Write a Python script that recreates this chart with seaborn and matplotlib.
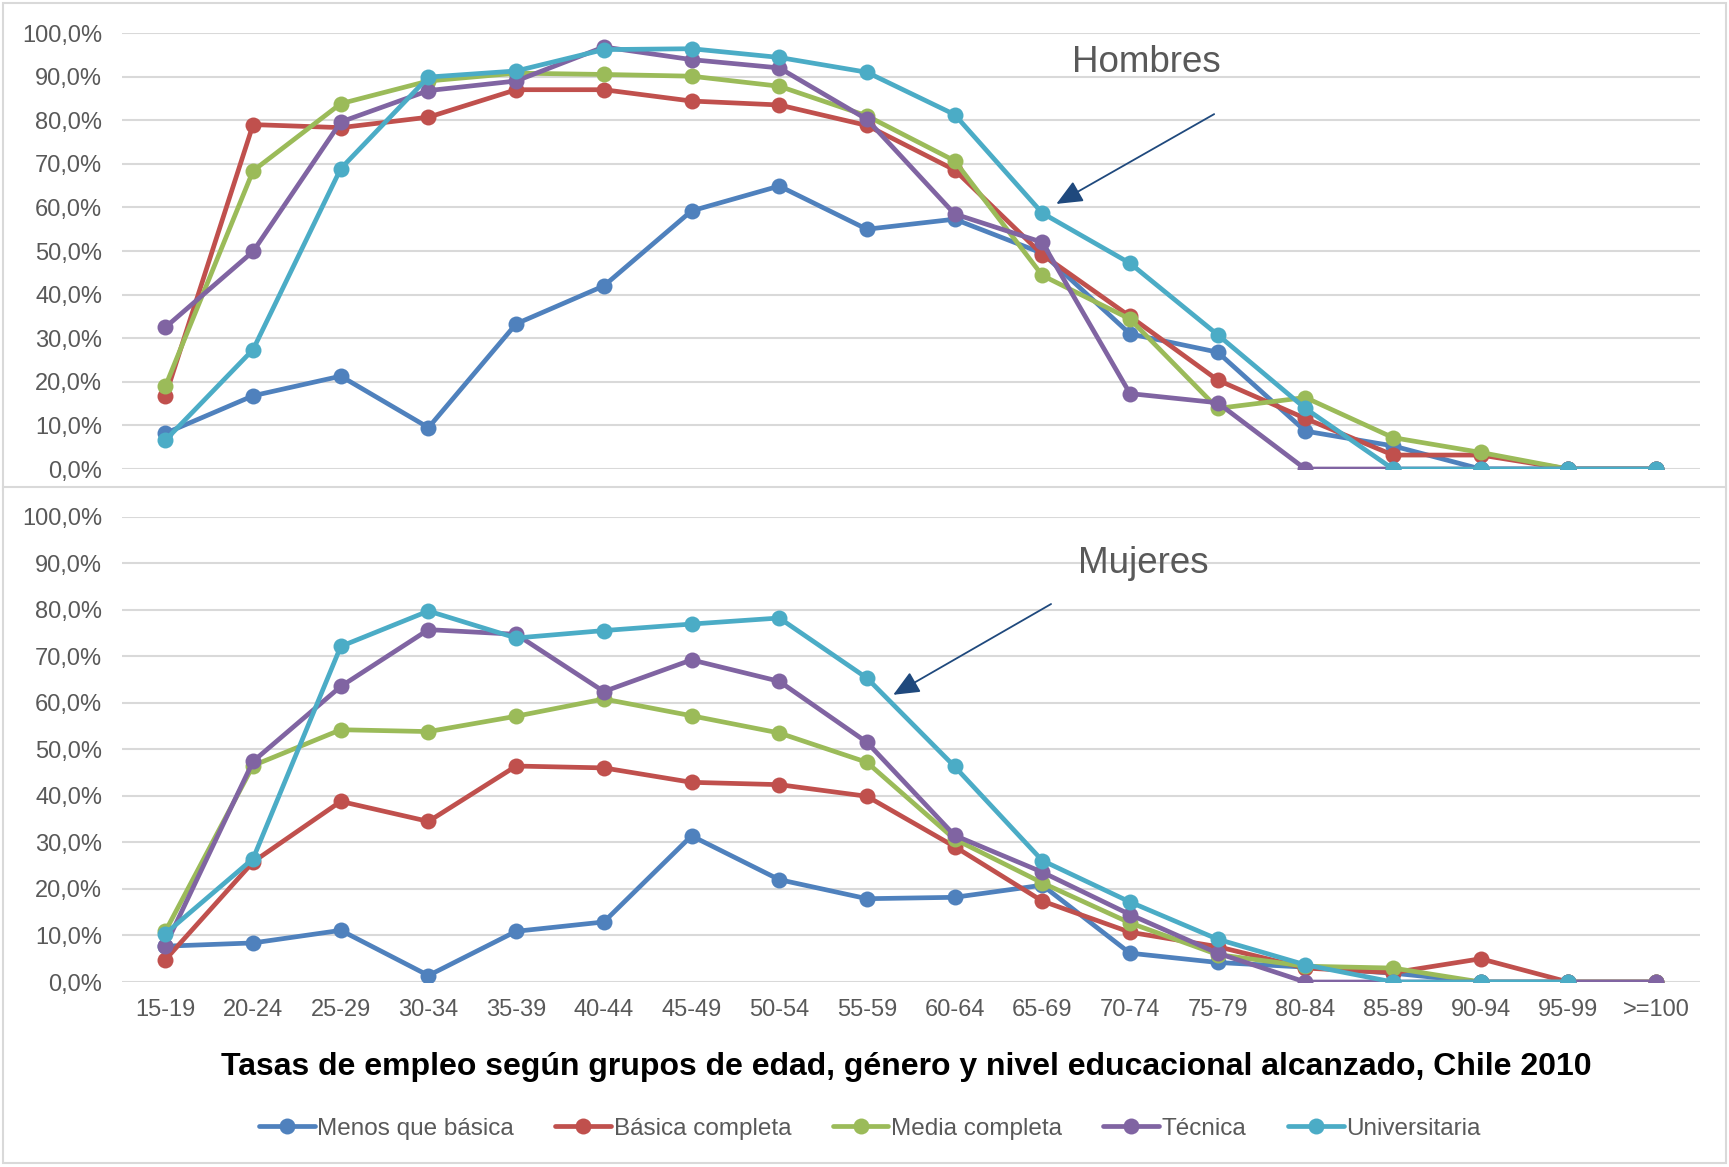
import numpy as np
import pandas as pd
import matplotlib
matplotlib.use("Agg")
import matplotlib.pyplot as plt
import seaborn as sns
from matplotlib.lines import Line2D
from matplotlib.patches import Rectangle
from matplotlib.ticker import FuncFormatter, MultipleLocator

# data (percent)
edades = ['15-19', '20-24', '25-29', '30-34', '35-39', '40-44', '45-49', '50-54', '55-59',
          '60-64', '65-69', '70-74', '75-79', '80-84', '85-89', '90-94', '95-99', '>=100']
niveles = ['Menos que básica', 'Básica completa', 'Media completa', 'Técnica', 'Universitaria']

menos_h = [8.2, 16.8, 21.3, 9.5, 33.3, 42.0, 59.2, 64.9, 55.0, 57.3, 49.5, 31.0, 26.8, 8.7, 5.3, 0, 0, 0]
basica_h = [16.7, 79.0, 78.3, 80.7, 87.0, 87.0, 84.4, 83.5, 78.8, 68.6, 49.2, 35.0, 20.4, 11.6, 3.2, 3.2, 0, 0]
media_h = [19.0, 68.4, 83.8, 89.0, 90.8, 90.5, 90.1, 87.8, 81.0, 70.7, 44.4, 34.4, 13.9, 16.4, 7.2, 3.8, 0, 0]
tecnica_h = [32.5, 49.9, 79.6, 86.8, 89.0, 96.8, 93.9, 92.0, 80.2, 58.5, 52.0, 17.3, 15.2, 0, 0, 0, 0, 0]
univ_h = [6.6, 27.4, 68.9, 89.9, 91.3, 96.2, 96.4, 94.4, 91.0, 81.3, 58.7, 47.2, 30.8, 13.9, 0, 0, 0, 0]

menos_m = [7.7, 8.4, 11.1, 1.4, 10.9, 12.9, 31.4, 22.0, 17.9, 18.2, 20.8, 6.2, 4.2, 3.2, 1.9, 0, 0, 0]
basica_m = [4.8, 25.8, 38.8, 34.5, 46.4, 46.0, 42.9, 42.4, 39.9, 29.1, 17.4, 10.7, 7.6, 3.0, 2.0, 5.0, 0, 0]
media_m = [10.9, 46.5, 54.2, 53.8, 57.1, 60.8, 57.2, 53.5, 47.2, 30.7, 21.3, 12.7, 5.9, 3.4, 3.0, 0, 0, 0]
tecnica_m = [7.8, 47.4, 63.5, 75.7, 74.7, 62.4, 69.2, 64.6, 51.5, 31.5, 23.6, 14.5, 6.2, 0, 0, 0, 0, 0]
univ_m = [10.4, 26.5, 72.1, 79.7, 73.9, 75.5, 76.9, 78.2, 65.3, 46.3, 26.1, 17.2, 9.2, 3.7, 0, 0, 0, np.nan]

colores = ['#4F81BD', '#C0504D', '#9BBB59', '#8064A2', '#4BACC6']
titulo = 'Tasas de empleo según grupos de edad, género y nivel educacional alcanzado, Chile 2010'


def to_long(series):
    rows = []
    for nivel, vals in zip(niveles, series):
        for i, v in enumerate(vals):
            rows.append({'x': i, 'edad': edades[i], 'nivel': nivel, 'tasa': v})
    return pd.DataFrame(rows)


df_h = to_long([menos_h, basica_h, media_h, tecnica_h, univ_h])
df_m = to_long([menos_m, basica_m, media_m, tecnica_m, univ_m])

sns.set_style("white")
plt.rcParams['font.family'] = ['Liberation Sans', 'DejaVu Sans']

fig = plt.figure(figsize=(17.29, 11.67), dpi=100)
gris = '#595959'
grid_c = '#D9D9D9'

ax_h = fig.add_axes([0.0703, 0.5981, 0.9129, 0.3736], zorder=0)
ax_m = fig.add_axes([0.0703, 0.1585, 0.9129, 0.3989], zorder=2)

# panel borders (the lower chart sits on top of the upper chart's tick labels)
fig.patches.append(Rectangle((3 / 1729, 1 - 490 / 1167), 1723 / 1729, 487 / 1167,
                             transform=fig.transFigure, facecolor='white',
                             edgecolor=grid_c, lw=1.5, zorder=-1))
fig.patches.append(Rectangle((3 / 1729, 4 / 1167), 1723 / 1729, 676 / 1167,
                             transform=fig.transFigure, facecolor='white',
                             edgecolor=grid_c, lw=1.5, zorder=1))

pct = FuncFormatter(lambda v, p: f"{v:.1f}%".replace('.', ','))

for ax, df in [(ax_h, df_h), (ax_m, df_m)]:
    ax.set_facecolor('none')
    sns.lineplot(data=df, x='x', y='tasa', hue='nivel', hue_order=niveles,
                 palette=colores, marker='o', markersize=11.5, markeredgewidth=0,
                 linewidth=3.4, legend=False, errorbar=None, ax=ax)
    ax.set_xlim(-0.5, len(edades) - 0.5)
    ax.set_ylim(0, 100)
    ax.yaxis.set_major_locator(MultipleLocator(10))
    ax.yaxis.set_major_formatter(pct)
    ax.set_xticks(range(len(edades)))
    ax.set_xticklabels(edades)
    ax.grid(axis='y', color=grid_c, lw=1.5)
    ax.set_axisbelow(True)
    for s in ax.spines.values():
        s.set_visible(False)
    ax.tick_params(axis='both', length=0, labelsize=17, labelcolor=gris)
    ax.tick_params(axis='y', pad=14)
    ax.tick_params(axis='x', pad=12)
    ax.set_xlabel('')
    ax.set_ylabel('')

# annotations
flecha = dict(arrowstyle='-|>,head_length=1.6,head_width=0.7', color='#1F497D', lw=1.3,
              shrinkA=0, shrinkB=0)
ax_h.text(11.19, 93.3, 'Hombres', fontsize=26.5, color=gris, ha='center', va='center')
ax_h.annotate('', xy=(10.16, 60.8), xytext=(11.96, 81.4), arrowprops=flecha)
ax_m.text(11.15, 90.0, 'Mujeres', fontsize=26.5, color=gris, ha='center', va='center')
ax_m.annotate('', xy=(8.30, 61.7), xytext=(10.10, 81.2), arrowprops=flecha)

fig.text(0.524, 0.0857, titulo, fontsize=23, fontweight='bold', color='black',
         ha='center', va='center', zorder=3)

handles = [Line2D([0], [0], color=c, lw=3.4, marker='o', markersize=11.5, markeredgewidth=0)
           for c in colores]
fig.legend(handles, niveles, loc='center', bbox_to_anchor=(0.503, 0.0326), ncol=5,
           frameon=False, fontsize=17.5, handlelength=2.3, handletextpad=0.1,
           columnspacing=1.7, labelcolor=gris)

fig.savefig('out.png', dpi=100, facecolor='white')
